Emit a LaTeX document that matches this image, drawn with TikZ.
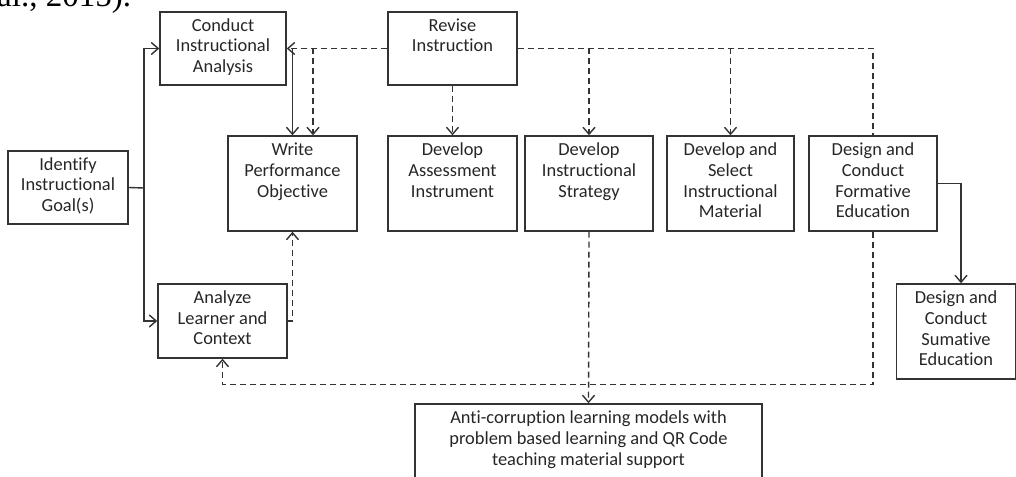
\documentclass[tikz,border=0pt]{standalone}
\usepackage{fontspec}
\setmainfont{Carlito}[Ligatures={NoCommon,NoRare,NoContextual}]
\newfontfamily\docfont{Liberation Serif}
\usetikzlibrary{arrows.meta}
\begin{document}
\begin{tikzpicture}[x=1pt,y=-1pt,
  box/.style={draw=black!80, line width=1.4pt, inner sep=0pt, align=center, text=black!85,
    font=\fontsize{18.4}{20.7}\selectfont, execute at begin node=\strut, execute at end node=\strut},
  wire/.style={draw=black!80, line width=1.4pt},
  dwire/.style={wire, dash pattern=on 6pt off 4pt},
  arr/.style={-{Straight Barb[length=7pt,width=12pt]}},
]
\useasboundingbox (0,0) rectangle (1016,476);
\clip (0,0) rectangle (1016,476);
\node[anchor=base west, font=\docfont\fontsize{33}{38}\selectfont, inner sep=0pt, text=black] (cap) at (-3,6.5) {al., 2015).};

\node[box, minimum width=120pt, minimum height=73pt] (goal) at (68,187.5) {Identify\\Instructional\\Goal(s)};
\node[box, minimum width=126pt, minimum height=73pt] (cia) at (223,48.5) {Conduct\\Instructional\\Analysis};
\node[box, minimum width=129pt, minimum height=73pt] (rev) at (452.5,48.5) {Revise\\Instruction\\\mbox{}};
\node[box, minimum width=129pt, minimum height=95pt] (wpo) at (292.5,183.5) {Write\\Performance\\Objective\\\mbox{}};
\node[box, minimum width=129pt, minimum height=95pt] (dai) at (452.5,183.5) {Develop\\Assessment\\Instrument\\\mbox{}};
\node[box, minimum width=128pt, minimum height=95pt] (dis) at (589,183.5) {Develop\\Instructional\\Strategy\\\mbox{}};
\node[box, minimum width=127pt, minimum height=95pt] (dsm) at (730.5,183.5) {Develop and\\Select\\Instructional\\Material};
\node[box, minimum width=128pt, minimum height=95pt] (dcf) at (873,183.5) {Design and\\Conduct\\Formative\\Education};
\node[box, minimum width=119pt, minimum height=95pt] (dcs) at (956,331.5) {Design and\\Conduct\\Sumative\\Education};
\node[box, minimum width=129pt, minimum height=74pt] (alc) at (222.5,321) {Analyze\\Learner and\\Context};
\node[box, minimum width=347pt, minimum height=95pt] (anti) at (588.5,451.5) {Anti-corruption learning models with\\problem based learning and QR Code\\teaching material support\\\mbox{}};

\coordinate (j1) at (144,188);
\draw[wire] (goal.east) -- (j1);
\draw[wire,arr] (j1) |- (cia.west);
\draw[wire,arr] (j1) |- (alc.west);
\draw[dwire,arr] (rev.west) -- (cia.east);
\draw[wire,arr] (wpo.north |- cia.east) -- (wpo.north);
\coordinate (c2) at (313,48.5);
\draw[dwire,arr] (c2) -- (c2 |- wpo.north);
\draw[dwire,arr] (rev.south) -- (dai.north);
\draw[dwire] (rev.east) -| (dcf.north);
\draw[dwire,arr] (dis.north |- rev.east) -- (dis.north);
\draw[dwire,arr] (dsm.north |- rev.east) -- (dsm.north);
\coordinate (c7) at (961,183.5);
\draw[wire,arr] (dcf.east) -- (c7) -- (c7 |- dcs.north);
\draw[dwire,arr] (dcf.south) -- ++(0,153) -| (alc.south);
\draw[dwire,arr] (dis.south) -- (anti.north);
\draw[dwire,arr] (alc.east) -- (alc.east -| wpo.south) -- (wpo.south);
\end{tikzpicture}
\end{document}
